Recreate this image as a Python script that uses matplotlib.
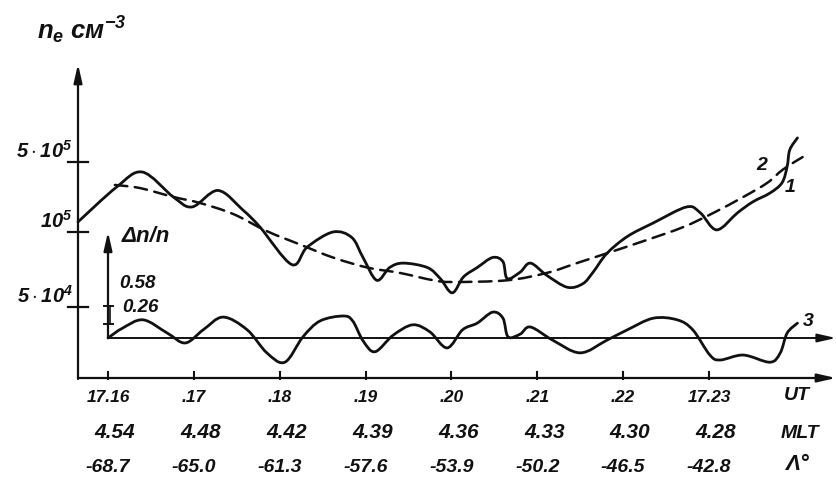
import numpy as np
import matplotlib
matplotlib.use("Agg")
import matplotlib.pyplot as plt
from matplotlib.path import Path
from matplotlib.patches import PathPatch

plt.rcParams['font.family'] = ['Liberation Sans', 'DejaVu Sans']
plt.rcParams['mathtext.fontset'] = 'custom'
plt.rcParams['mathtext.rm'] = 'Liberation Sans:italic:bold'
plt.rcParams['mathtext.it'] = 'Liberation Sans:italic:bold'
plt.rcParams['mathtext.bf'] = 'Liberation Sans:italic:bold'

# ---------------- data ----------------
# time in minutes after 17:00 UT
ut_ticks = [16, 17, 18, 19, 20, 21, 22, 23]
ut_labels = ["17.16", ".17", ".18", ".19", ".20", ".21", ".22", "17.23"]
mlt_labels = ["4.54", "4.48", "4.42", "4.39", "4.36", "4.33", "4.30", "4.28"]
lat_labels = ["-68.7", "-65.0", "-61.3", "-57.6", "-53.9", "-50.2", "-46.5", "-42.8"]

# curve 1 : measured n_e (cm^-3)
t1 = [15.65, 16.10, 16.40, 16.76, 16.98, 17.28, 17.57, 17.77, 18.14, 18.32,
      18.62, 18.84, 18.97, 19.13, 19.28, 19.44, 19.72, 19.87, 20.01, 20.14,
      20.30, 20.48, 20.60, 20.65, 20.80, 20.92, 21.11, 21.35, 21.53, 21.65,
      21.81, 22.05, 22.35, 22.74, 22.90, 23.09, 23.33, 23.51, 23.71, 23.85,
      23.91, 23.94, 24.03]
ne1 = [1.26e5, 2.81e5, 3.97e5, 2.24e5, 1.78e5, 2.60e5, 1.66e5, 1.12e5, 7.4e4, 8.7e4,
       1.00e5, 9.5e4, 7.9e4, 6.4e4, 7.2e4, 7.5e4, 7.2e4, 6.5e4, 5.7e4, 6.6e4,
       7.2e4, 7.9e4, 7.6e4, 6.5e4, 6.9e4, 7.5e4, 6.7e4, 6.0e4, 6.2e4, 6.9e4,
       8.2e4, 9.6e4, 1.23e5, 1.78e5, 1.55e5, 1.05e5, 1.55e5, 2.0e5, 2.45e5, 3.1e5,
       4.5e5, 6.6e5, 8.7e5]

# curve 2 : smoothed background n_e (dashed)
t2 = [16.08, 16.37, 16.76, 17.07, 17.46, 17.85, 18.24, 18.62, 19.02, 19.40,
      19.79, 20.02, 20.65, 21.11, 21.46, 21.85, 22.28, 22.70, 23.05, 23.40,
      23.68, 23.86, 24.09]
ne2 = [2.95e5, 2.75e5, 2.24e5, 1.95e5, 1.51e5, 1.02e5, 8.9e4, 7.9e4, 7.2e4, 6.85e4,
       6.4e4, 6.3e4, 6.4e4, 6.85e4, 7.5e4, 8.3e4, 9.3e4, 1.12e5, 1.55e5, 2.24e5,
       3.1e5, 4.2e5, 5.6e5]

# curve 3 : relative fluctuation dn/n
t3 = [16.00, 16.17, 16.41, 16.69, 16.90, 17.11, 17.34, 17.62, 17.85, 18.06,
      18.27, 18.47, 18.74, 18.85, 18.97, 19.11, 19.32, 19.55, 19.75, 19.95,
      20.13, 20.30, 20.48, 20.60, 20.66, 20.80, 20.92, 21.18, 21.50, 21.81,
      22.05, 22.35, 22.63, 22.81, 23.01, 23.13, 23.40, 23.71, 23.83, 23.91,
      24.03]
dn3 = [0.00, 0.18, 0.33, 0.09, -0.09, 0.15, 0.38, 0.15, -0.27, -0.44,
       0.02, 0.31, 0.40, 0.31, -0.05, -0.25, 0.05, 0.24, 0.11, -0.18,
       0.15, 0.27, 0.47, 0.36, 0.02, 0.07, 0.20, -0.04, -0.27, -0.04,
       0.15, 0.36, 0.33, 0.15, -0.31, -0.40, -0.31, -0.44, -0.27, 0.09,
       0.27]

ne_ticks = [5e5, 1e5, 5e4]
ne_tick_labels = [r"$5\cdot10^{5}$", r"$10^{5}$", r"$5\cdot10^{4}$"]
dn_ticks = [0.26, 0.58]

# ---------------- hand-drawn n_e scale ----------------
L_lo, L_mid, L_hi = np.log10(5e4), 5.0, np.log10(5e5)
U_mid, U_hi = 75.0, 145.0


def fwd(v):
    L = np.log10(np.clip(np.asarray(v, dtype=float), 1e-30, None))
    return np.where(L < L_mid, (L - L_lo) * U_mid / (L_mid - L_lo),
                    U_mid + (L - L_mid) * (U_hi - U_mid) / (L_hi - L_mid))


def inv(u):
    u = np.asarray(u, dtype=float)
    L = np.where(u < U_mid, L_lo + u * (L_mid - L_lo) / U_mid,
                 L_mid + (u - U_mid) * (L_hi - L_mid) / (U_hi - U_mid))
    return 10 ** L


W, H = 837, 483
fig = plt.figure(figsize=(W / 100, H / 100), dpi=100)
ax = fig.add_axes([0, 0, 1, 1])
ax.set_yscale('function', functions=(fwd, inv))
px_per_min = 85.86
x0 = 16 - 108 / px_per_min
ax.set_xlim(x0, x0 + W / px_per_min)
ax.set_ylim(float(inv(-(H - 307))), float(inv(307)))
ax.axis('off')

ax2 = ax.twinx()
ax2.set_ylim(-(H - 338) / 55.0, 338 / 55.0)
ax2.axis('off')

ink = '#111111'
lw_c = 2.0


def smooth_curve(axis, xs, ys, **kw):
    """Draw the data points joined by a smooth (Catmull-Rom) pen stroke."""
    tr = axis.transData
    pts = tr.transform(np.column_stack([xs, ys]))
    n = len(pts)
    verts = [pts[0]]
    codes = [Path.MOVETO]
    for i in range(n - 1):
        p0 = pts[i - 1] if i > 0 else pts[i]
        p1, p2 = pts[i], pts[i + 1]
        p3 = pts[i + 2] if i + 2 < n else pts[i + 1]
        verts += [p1 + (p2 - p0) / 6.0, p2 - (p3 - p1) / 6.0, p2]
        codes += [Path.CURVE4] * 3
    dverts = tr.inverted().transform(np.array(verts))
    patch = PathPatch(Path(dverts, codes), transform=tr, fill=False,
                      edgecolor=ink, capstyle='round', joinstyle='round', **kw)
    axis.add_patch(patch)


smooth_curve(ax, t1, ne1, lw=lw_c)
smooth_curve(ax, t2, ne2, lw=1.8, linestyle=(0, (5, 3)))
smooth_curve(ax2, t3, dn3, lw=lw_c)

# ---------------- axes drawn by hand ----------------
def fx(px):
    return px / W


def fy(py):
    return 1 - py / H


arrow = dict(arrowstyle='-|>,head_length=1.1,head_width=0.25', color=ink, lw=1.6,
             shrinkA=0, shrinkB=0)
ax.annotate('', xy=(fx(836), fy(378)), xytext=(fx(78), fy(378)),
            xycoords='axes fraction', textcoords='axes fraction', arrowprops=arrow)
ax.annotate('', xy=(fx(78), fy(64)), xytext=(fx(78), fy(379)),
            xycoords='axes fraction', textcoords='axes fraction', arrowprops=arrow)

xend = x0 + 836 / px_per_min
ax2.annotate('', xy=(xend, 0), xytext=(ut_ticks[0], 0),
             xycoords='data', textcoords='data',
             arrowprops=dict(arrow, lw=1.4))
ax2.annotate('', xy=(ut_ticks[0], 1.93), xytext=(ut_ticks[0], 0),
             xycoords='data', textcoords='data', arrowprops=arrow)

# x ticks and labels
xt = ax.get_xaxis_transform()
for t, l1, l2, l3 in zip(ut_ticks, ut_labels, mlt_labels, lat_labels):
    ax.plot([t, t], [fy(379), fy(372)], transform=xt, color=ink, lw=1.5)
    ax.text(t, fy(398), l1, transform=xt, ha='center', va='center',
            fontsize=12.5, style='italic', weight='bold', color=ink)
    ax.text(t + 0.08, fy(433), l2, transform=xt, ha='center', va='center',
            fontsize=15, style='italic', weight='bold', color=ink)
    ax.text(t, fy(467), l3, transform=xt, ha='center', va='center',
            fontsize=14, style='italic', weight='bold', color=ink)
ax.text(fx(797), fy(396), "UT", transform=ax.transAxes, ha='center', va='center',
        fontsize=14, style='italic', weight='bold', color=ink)
ax.text(fx(800), fy(433), "MLT", transform=ax.transAxes, ha='center', va='center',
        fontsize=14, style='italic', weight='bold', color=ink)
ax.text(fx(797), fy(465), "Λ°", transform=ax.transAxes, ha='center', va='center',
        fontsize=16, style='italic', weight='bold', color=ink)

# n_e ticks
yt = ax.get_yaxis_transform()
for v, lab in zip(ne_ticks, ne_tick_labels):
    ax.plot([fx(68), fx(88)], [v, v], transform=yt, color=ink, lw=1.6)
    ax.text(fx(73), v, lab, transform=yt, ha='right', va='bottom',
            fontsize=14.5, color=ink)

# dn/n ticks
yt2 = ax2.get_yaxis_transform()
for v in dn_ticks:
    ax2.plot([fx(104), fx(113)], [v, v], transform=yt2, color=ink, lw=1.4)
ax2.plot([fx(110), fx(110)], dn_ticks, transform=yt2, color=ink, lw=1.2)
ax.text(fx(137), fy(284), "0.58", transform=ax.transAxes, ha='center', va='center',
        fontsize=13.5, style='italic', weight='bold', color=ink)
ax.text(fx(140), fy(308), "0.26", transform=ax.transAxes, ha='center', va='center',
        fontsize=13.5, style='italic', weight='bold', color=ink)

# axis titles
ax.text(fx(37), fy(30), r"$n_e$" + " см" + r"$^{-3}$", transform=ax.transAxes,
        ha='left', va='center', fontsize=18.5, color=ink, style='italic', weight='bold')
ax.text(fx(122), fy(236), "Δn/n", transform=ax.transAxes, ha='left', va='center',
        fontsize=16, style='italic', weight='bold', color=ink)

# curve numbers
ax.text(fx(762), fy(166), "2", transform=ax.transAxes, ha='center', va='center',
        fontsize=14, style='italic', weight='bold', color=ink)
ax.text(fx(790), fy(188), "1", transform=ax.transAxes, ha='center', va='center',
        fontsize=14, style='italic', weight='bold', color=ink)
ax.text(fx(808), fy(322), "3", transform=ax.transAxes, ha='center', va='center',
        fontsize=14, style='italic', weight='bold', color=ink)

fig.savefig("out.png", dpi=100, facecolor='white')
